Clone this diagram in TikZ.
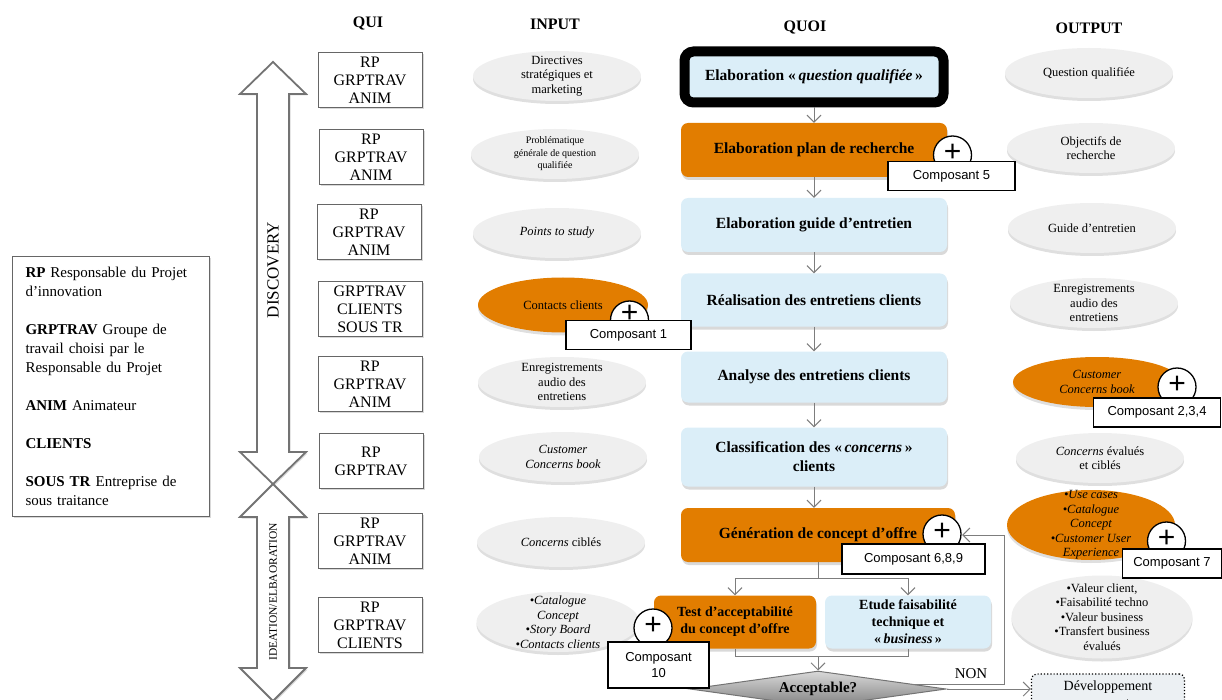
\documentclass[tikz,border=0pt]{standalone}
\usepackage{fontspec}
\setmainfont{Liberation Serif}
\newfontfamily\compfont{Liberation Sans}
\usetikzlibrary{shapes,arrows.meta,shadows}
\definecolor{taskorange}{RGB}{226,125,0}
\definecolor{taskblue}{RGB}{219,238,248}
\definecolor{ovalgray}{RGB}{239,239,239}
\definecolor{flowgray}{RGB}{125,125,125}
\definecolor{devfill}{RGB}{236,240,243}

\begin{document}
\begin{tikzpicture}[x=1pt, y=-1pt,
    header/.style={font=\fontsize{16}{18}\selectfont\bfseries},
    quibox/.style={draw=black!60, line width=1pt, fill=white, minimum width=104pt, minimum height=55pt, inner sep=0pt, align=center, font=\fontsize{16}{18}\selectfont, drop shadow={opacity=0.3, shadow xshift=1.5pt, shadow yshift=-1.5pt}},
    oval/.style={ellipse, fill=ovalgray, minimum width=168pt, minimum height=50pt, inner xsep=-10pt, inner ysep=-8pt, align=center, font=\fontsize{12.5}{14.5}\selectfont, drop shadow={opacity=0.25, shadow xshift=0pt, shadow yshift=-3pt}},
    ovalit/.style={oval, font=\fontsize{12.5}{14.5}\selectfont\itshape},
    hotoval/.style={oval, fill=taskorange},
    task/.style={rounded corners=7pt, fill=taskblue, minimum width=266pt, minimum height=54pt, inner sep=0pt, align=center, font=\fontsize{15.5}{19}\selectfont\bfseries, drop shadow={opacity=0.3, shadow xshift=1pt, shadow yshift=-3pt}},
    hottask/.style={task, fill=taskorange},
    smalltask/.style={minimum width=164pt, minimum height=53pt, font=\fontsize{14}{17}\selectfont\bfseries},
    plussign/.style={circle, draw, line width=1.3pt, fill=white, minimum size=38pt, inner sep=0pt, text height=13pt, text depth=0pt, font=\compfont\fontsize{30}{30}\selectfont},
    composant/.style={draw, line width=1.3pt, fill=white, minimum height=29pt, inner sep=0pt, align=center, font=\compfont\fontsize{13}{16}\selectfont},
    flow/.style={draw=flowgray, line width=1pt, -{Straight Barb[length=7pt, width=14pt]}},
    phase/.style={draw=black!55, line width=1.8pt, fill=white, drop shadow={opacity=0.3, shadow xshift=1.5pt, shadow yshift=-1.5pt}},
]
    \useasboundingbox (0,0) rectangle (1222,700);

    \node[header] (quihead) at (368,24) {QUI};
    \node[header] (inhead) at (555,24) {INPUT};
    \node[header] (quoihead) at (805,28) {QUOI};
    \node[header] (outhead) at (1089,28) {OUTPUT};

    \node[draw=black!60, line width=1pt, fill=white, anchor=north west, minimum width=197pt, minimum height=260pt, text width=171pt, inner xsep=13pt, align=left, font=\fontsize{15}{19}\selectfont, drop shadow={opacity=0.3, shadow xshift=1.5pt, shadow yshift=-1.5pt}] (legend) at (12,256) {\textbf{RP} Responsable du Projet\\d’innovation\\[19pt]\textbf{GRPTRAV} Groupe de\\travail choisi par le\\Responsable du Projet\\[19pt]\textbf{ANIM} Animateur\\[19pt]\textbf{CLIENTS}\\[19pt]\textbf{SOUS TR} Entreprise de\\sous traitance};

    \draw[phase] (273,62) -- (306,94) -- (289,94) -- (289,452) -- (306,452) -- (273,484) -- (240,452) -- (257,452) -- (257,94) -- (240,94) -- cycle;
    \draw[phase] (273,484) -- (306,517) -- (289,517) -- (289,668) -- (306,668) -- (273,701) -- (240,668) -- (257,668) -- (257,517) -- (240,517) -- cycle;
    \node[rotate=90, font=\fontsize{17}{17}\selectfont] (discovery) at (273,270) {DISCOVERY};
    \node[rotate=90, font=\fontsize{11.5}{12}\selectfont] (ideation) at (273,592) {IDEATION/ELBAORATION};

    \node[quibox] (qui1) at (370,80) {RP\\GRPTRAV\\ANIM};
    \node[quibox] (qui2) at (371,157) {RP\\GRPTRAV\\ANIM};
    \node[quibox] (qui3) at (369,232) {RP\\GRPTRAV\\ANIM};
    \node[quibox] (qui4) at (370,309) {GRPTRAV\\CLIENTS\\SOUS TR};
    \node[quibox] (qui5) at (370,384) {RP\\GRPTRAV\\ANIM};
    \node[quibox] (qui6) at (371,461) {RP\\GRPTRAV};
    \node[quibox] (qui7) at (370,541) {RP\\GRPTRAV\\ANIM};
    \node[quibox] (qui8) at (370,625) {RP\\GRPTRAV\\CLIENTS};

    \node[oval] (in1) at (557,76) {Directives\\stratégiques et\\marketing};
    \node[oval, font=\fontsize{10}{12.5}\selectfont] (in2) at (555,154) {Problématique\\générale de question\\qualifiée};
    \node[ovalit] (in3) at (557,233) {Points to study};
    \node[hotoval, minimum width=170pt, minimum height=55pt] (in4) at (563,305) {Contacts clients};
    \node[oval] (in5) at (562,382) {Enregistrements\\audio des\\entretiens};
    \node[ovalit] (in6) at (563,457) {Customer\\Concerns book};
    \node[oval] (in7) at (561,542) {\textit{Concerns} ciblés};
    \node[ovalit, minimum width=163pt, minimum height=60pt] (in8) at (558,622) {•Catalogue\\Concept\\•Story Board\\•Contacts clients};

    \node[draw=black, line width=10pt, rounded corners=9pt, fill=taskblue, minimum width=259pt, minimum height=51pt, inner sep=0pt, font=\fontsize{15.5}{19}\selectfont\bfseries] (q1) at (814,77) {Elaboration «\,\textit{question qualifiée}\,»};
    \node[hottask] (q2) at (814,150) {Elaboration plan de recherche};
    \node[task] (q3) at (814,225) {Elaboration guide d’entretien};
    \node[task, minimum height=53pt] (q4) at (814,300) {Réalisation des entretiens clients};
    \node[task, minimum height=51pt] (q5) at (814,377) {Analyse des entretiens clients};
    \node[task, minimum height=59pt] (q6) at (814,457) {Classification des «\,\textit{concerns}\,»\\clients};
    \node[hottask, minimum width=274pt] (q7) at (818,535) {Génération de concept d’offre};
    \node[hottask, smalltask, minimum width=162pt] (q8) at (735,622) {Test d’acceptabilité\\du concept d’offre};
    \node[task, smalltask, minimum width=166pt] (q9) at (908,622) {Etude faisabilité\\technique et\\«\,\textit{business}\,»};
    \node[diamond, aspect=7, minimum width=256pt, minimum height=36pt, inner sep=0pt, draw=black!55, line width=1pt, top color=black!15, bottom color=black!50, font=\fontsize{15}{18}\selectfont\bfseries] (acc) at (818,689) {Acceptable?};
    \node[draw, dotted, line width=1.2pt, rounded corners=5pt, fill=devfill, minimum width=153pt, minimum height=44pt, inner sep=0pt, align=center, font=\fontsize{14}{17}\selectfont] (dev) at (1108,696) {Développement\\concept};

    \node[oval] (out1) at (1089,73) {Question qualifiée};
    \node[oval] (out2) at (1091,148) {Objectifs de\\recherche};
    \node[oval] (out3) at (1092,228) {Guide d’entretien};
    \node[oval] (out4) at (1094,303) {Enregistrements\\audio des\\entretiens};
    \node[hotoval, font=\fontsize{12.5}{14.5}\selectfont\itshape] (out5) at (1097,382) {Customer\\Concerns book};
    \node[oval] (out6) at (1100,458) {\textit{Concerns} évalués\\et ciblés};
    \node[hotoval, font=\fontsize{12.5}{14.5}\selectfont\itshape, minimum height=70pt, inner ysep=-12pt] (out7) at (1091,525) {•Use cases\\•Catalogue\\Concept\\•Customer User\\Experience};
    \node[oval, minimum width=181pt, minimum height=83pt] (out8) at (1102,617) {•Valeur client,\\•Faisabilité techno\\•Valeur business\\•Transfert business\\évalués};

    \draw[flow] (q1) -- (q2);
    \draw[flow] (q2) -- (q3);
    \draw[flow] (q3) -- (q4);
    \draw[flow] (q4) -- (q5);
    \draw[flow] (q5) -- (q6);
    \draw[flow] (q6) -- (q6 |- q7.north);
    \draw[draw=flowgray, line width=1pt] (q7.south) -- ++(0,16) coordinate (split);
    \draw[flow] (split) -| (q8.north);
    \draw[flow] (split) -| (q9.north);
    \draw[draw=flowgray, line width=1pt] (q8.south) -- ++(0,8) coordinate (join) -| (q9.south);
    \draw[flow] (acc.north |- join) -- (acc.north);
    \draw[flow] (acc.east) -- (acc.east -| dev.west);
    \node[font=\fontsize{15}{18}\selectfont] (oui) at (971,707) {OUI};

    \node[plussign, text height=5pt] (plus1) at (629.5,320) {+};
    \node[composant, minimum width=125pt] (comp1) at (628.5,335) {Composant 1};
    \node[plussign] (plus5) at (952.5,155) {+};
    \node[composant, minimum width=127pt] (comp5) at (951.5,176) {Composant 5};
    \node[plussign] (plus234) at (1177,387) {+};
    \node[composant, minimum width=127pt] (comp234) at (1157,412.5) {Composant 2,3,4};
    \node[plussign] (plus7) at (1166.5,541) {+};
    \node[composant, minimum width=99pt] (comp7) at (1172,563.5) {Composant 7};
    \node[plussign] (plus689) at (942,534) {+};
    \node[composant, minimum width=143pt, minimum height=30pt] (comp689) at (913.5,559) {Composant 6,8,9};
    \node[plussign] (plus10) at (653,628) {+};
    \node[composant, minimum width=101pt, minimum height=46pt] (comp10) at (658.5,665) {Composant\\10};

    \coordinate (nonturn) at (1004,535);
    \draw[flow, shorten >=7pt] (acc.3) -| (nonturn) -- (q7.east);
    \node[font=\fontsize{15}{18}\selectfont] (non) at (971,674) {NON};
\end{tikzpicture}
\end{document}
